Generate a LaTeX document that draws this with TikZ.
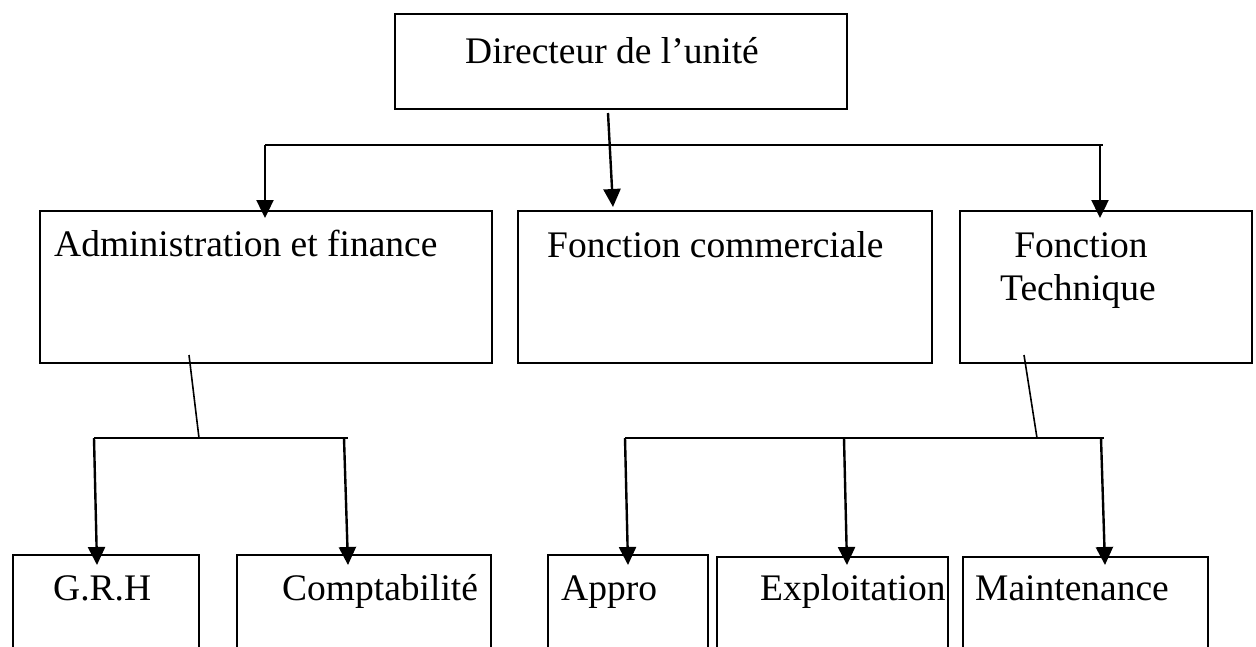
\documentclass[tikz,border=0pt]{standalone}
\usepackage{fontspec}
\setmainfont{Liberation Serif}
\usetikzlibrary{arrows.meta,calc}

\tikzset{
  unitbox/.style={draw=black, line width=2pt, inner sep=0pt, anchor=north west},
  lbl/.style={anchor=base west, inner sep=0pt, font=\fontsize{37.5}{43}\selectfont},
  arr/.style={-{Triangle[length=18pt,width=17pt]}, line width=2.4pt},
  bus/.style={line width=2.4pt},
  thinline/.style={line width=1.6pt}
}

\begin{document}
\begin{tikzpicture}[x=1pt,y=-1pt]
            \clip (0,0) rectangle (1256,646);
            \fill[white] (0,0) rectangle (1256,646);

            % boxes
            \node[unitbox, minimum width=452pt, minimum height=95pt] (dir) at (394,13) {};
            \node[unitbox, minimum width=452pt, minimum height=152pt] (admin) at (39,210) {};
            \node[unitbox, minimum width=414pt, minimum height=152pt] (com) at (517,210) {};
            \node[unitbox, minimum width=292pt, minimum height=152pt] (tech) at (959,210) {};
            \node[unitbox, minimum width=186pt, minimum height=150pt] (grh) at (12,554) {};
            \node[unitbox, minimum width=254pt, minimum height=150pt] (compta) at (236,554) {};
            \node[unitbox, minimum width=160pt, minimum height=150pt] (appro) at (547,554) {};
            \node[unitbox, minimum width=231pt, minimum height=150pt] (exploit) at (716,556) {};
            \node[unitbox, minimum width=245pt, minimum height=150pt] (maint) at (962,556) {};

            % labels
            \node[lbl] (dirtxt) at (465,63) {Directeur de l’unité};
            \node[lbl] (admintxt) at (54,256) {Administration et finance};
            \node[lbl] (comtxt) at (547,257) {Fonction commerciale};
            \node[lbl, anchor=base] (techtxta) at (1081,257) {Fonction};
            \node[lbl, anchor=base] (techtxtb) at (1078,300) {Technique};
            \node[lbl] (grhtxt) at (53,600) {G.R.H};
            \node[lbl] (comptatxt) at (282,600) {Comptabilité};
            \node[lbl] (approtxt) at (561,600) {Appro};
            \node[lbl] (exploittxt) at (760,600) {Exploitation};
            \node[lbl] (mainttxt) at (975,600) {Maintenance};

            % bus points
            \coordinate (dirout) at (608,113);
            \coordinate (busL) at (265,145);
            \coordinate (busR) at (1103,145);
            \coordinate (busaL) at (94,438);
            \coordinate (busaM) at (199,438);
            \coordinate (busaR) at (348,438);
            \coordinate (busbL) at (625,438);
            \coordinate (busbM) at (1037,438);
            \coordinate (busbR) at (1104,438);

            % first level
            \draw[bus] (busL) -- (busR);
            \draw[arr] (busL) -- ($(admin.north west)+(226,8)$);
            \draw[arr] (dirout) -- ($(com.north west)+(96,-3)$);
            \draw[arr] ($(busR)+(-3,0)$) -- ($(tech.north west)+(141,8)$);

            % administration et finance
            \draw[thinline] ($(admin.south west)+(150,-9)$) -- (busaM);
            \draw[bus] (busaL) -- (busaR);
            \draw[arr] (busaL) -- ($(grh.north west)+(85,11)$);
            \draw[arr] ($(busaR)+(-4,0)$) -- ($(compta.north west)+(112,11)$);

            % fonction technique
            \draw[thinline] ($(tech.south west)+(65,-9)$) -- (busbM);
            \draw[bus] (busbL) -- (busbR);
            \draw[arr] (busbL) -- ($(appro.north west)+(81,11)$);
            \draw[arr] (844,438) -- ($(exploit.north west)+(131,9)$);
            \draw[arr] (1101,438) -- ($(maint.north west)+(143,9)$);
\end{tikzpicture}
\end{document}
